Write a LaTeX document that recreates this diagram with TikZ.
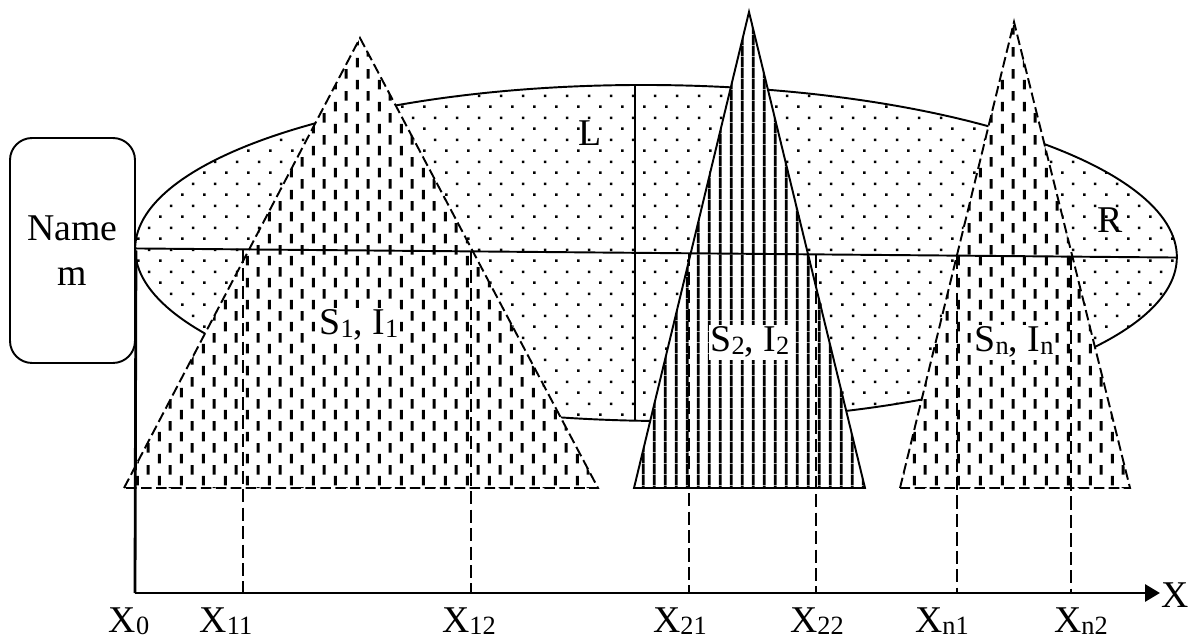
\documentclass[tikz,border=0pt]{standalone}
\usepackage{fontspec}
\setmainfont{Liberation Serif}
\usetikzlibrary{shapes.geometric, arrows.meta, patterns.meta, calc}

\newcommand{\lowidx}[1]{\raisebox{-1.5pt}{\fontsize{15}{15}\selectfont #1}}

\tikzdeclarepattern{
  name=fielddots, type=uncolored,
  bottom left={(0cm,0cm)}, top right={(0.444cm,0.444cm)},
  tile size={(0.444cm,0.444cm)},
  code={
    \fill (0.084cm,0.084cm) rectangle (0.138cm,0.138cm);
    \fill (0.306cm,0.306cm) rectangle (0.360cm,0.360cm);
  }
}
\tikzdeclarepattern{
  name=stripdash, type=uncolored,
  bottom left={(0cm,0cm)}, top right={(0.444cm,0.444cm)},
  tile size={(0.444cm,0.444cm)},
  code={
    \fill (0.080cm,0.012cm) rectangle (0.142cm,0.212cm);
    \fill (0.302cm,0.234cm) rectangle (0.364cm,0.434cm);
  }
}
\tikzdeclarepattern{
  name=stripline, type=uncolored,
  bottom left={(0cm,0cm)}, top right={(0.224cm,0.224cm)},
  tile size={(0.224cm,0.224cm)},
  code={
    \fill (0.082cm,0cm) rectangle (0.142cm,0.224cm);
  }
}

\begin{document}
\begin{tikzpicture}[
  x=0.02cm, y=-0.02cm,
  font=\fontsize{21.5}{26}\selectfont,
  namebox/.style={rectangle, draw, line width=1.1pt, rounded corners=0.44cm,
    minimum width=2.5cm, minimum height=4.5cm, align=center},
  field/.style={ellipse, draw, line width=1.1pt, pattern=fielddots,
    minimum width=20.84cm, minimum height=6.72cm, inner sep=0pt, outer sep=0pt, rotate=-0.5},
  softpeak/.style={preaction={fill=white}, pattern=stripdash, draw, line width=1.1pt,
    dash pattern=on 6pt off 2.5pt},
  hardpeak/.style={preaction={fill=white}, pattern=stripline, draw, line width=1.1pt},
  border/.style={line width=1.1pt},
  guide/.style={line width=1.1pt, dash pattern=on 7.5pt off 3pt},
  axis/.style={line width=1.6pt},
  tag/.style={fill=white, inner sep=1pt}
]
\useasboundingbox (0,0) rectangle (1189,641);

\node[field] (zone) at (656,253) {};
\coordinate (dtop) at (635,85);
\coordinate (dbot) at (635,421);
\draw[border] (dtop) -- (dbot);

\coordinate (p1) at (360,38);
\coordinate (p1l) at (124,488);
\coordinate (p1r) at (598,488);
\coordinate (p2) at (749,12);
\coordinate (p2l) at (634,488);
\coordinate (p2r) at (865,488);
\coordinate (pn) at (1014,22);
\coordinate (pnl) at (900,488);
\coordinate (pnr) at (1130,488);

\draw[softpeak] (p1l) -- (p1) -- (p1r) -- cycle;
\draw[hardpeak] (p2l) -- (p2) -- (p2r) -- cycle;
\draw[softpeak] (pnl) -- (pn) -- (pnr) -- cycle;

\draw[border] (zone.west) -- (zone.east);

\node[namebox] (name) at (72.5,250.5) {Name\\m};
\coordinate (origin) at (135,593);
\coordinate (xend) at (1160,593);
\draw[axis] (name.east) -- (origin);
\draw[axis, -{Triangle[length=0.3cm, width=0.34cm]}] (origin) -- (xend);

\coordinate (t11) at ($(zone.west)!0.1036!(zone.east)$);
\coordinate (t12) at ($(zone.west)!0.3225!(zone.east)$);
\coordinate (t21) at ($(zone.west)!0.5317!(zone.east)$);
\coordinate (t22) at ($(zone.west)!0.6536!(zone.east)$);
\coordinate (tn1) at ($(zone.west)!0.7889!(zone.east)$);
\coordinate (tn2) at ($(zone.west)!0.8983!(zone.east)$);
\draw[guide] (t11) -- (t11 |- origin);
\draw[guide] (t12) -- (t12 |- origin);
\draw[guide] (t21) -- (t21 |- origin);
\draw[guide] (t22) -- (t22 |- origin);
\draw[guide] (tn1) -- (tn1 |- origin);
\draw[guide] (tn2) -- (tn2 |- origin);

\node (lblL) at (590,133) {L};
\node (lblR) at (1110,220) {R};
\node[tag, anchor=base] (lbl1) at (359,335) {S\lowidx{1}, I\lowidx{1}};
\node[tag, anchor=base] (lbl2) at (750,352) {S\lowidx{2}, I\lowidx{2}};
\node[tag, anchor=base] (lbln) at (1014,352) {S\lowidx{n}, I\lowidx{n}};

\node[anchor=base] (x0) at (129,632) {X\lowidx{0}};
\node[anchor=base] (x11) at (226,632) {X\lowidx{11}};
\node[anchor=base] (x12) at (469,632) {X\lowidx{12}};
\node[anchor=base] (x21) at (680,632) {X\lowidx{21}};
\node[anchor=base] (x22) at (817,632) {X\lowidx{22}};
\node[anchor=base] (xn1) at (942,632) {X\lowidx{n1}};
\node[anchor=base] (xn2) at (1081,632) {X\lowidx{n2}};
\node[anchor=base] (xlbl) at (1175,607) {X};

\end{tikzpicture}
\end{document}
